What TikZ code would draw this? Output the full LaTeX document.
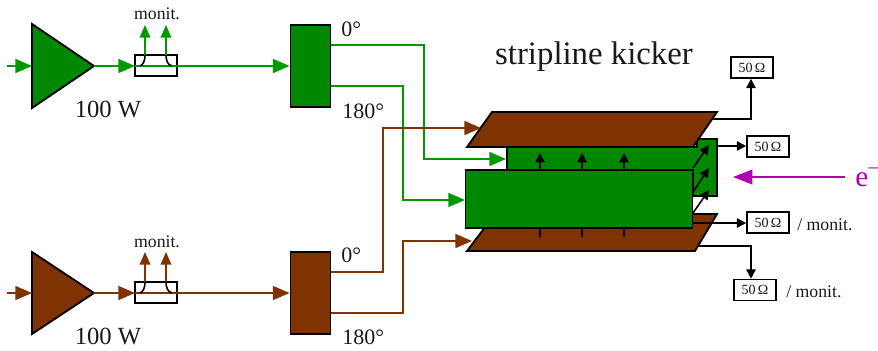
\documentclass[tikz,border=0pt]{standalone}
\usepackage{fontspec}
\setmainfont{Liberation Serif}
\usetikzlibrary{arrows.meta}
\definecolor{grn}{HTML}{008800}
\definecolor{grnline}{HTML}{009900}
\definecolor{brn}{HTML}{7F3300}
\definecolor{mag}{HTML}{B000B0}
\tikzset{
 x=0.75pt,y=-0.75pt,
 fsz/.style={font=\fontsize{#1}{#1}\selectfont,inner sep=0pt,text=black!90},
 split/.style={draw=black,line width=1.4pt,fill=#1,minimum width=30pt,minimum height=61.5pt,inner sep=0pt},
 coupler/.style={draw=black,line width=1.2pt,fill=white,minimum width=31.5pt,minimum height=15.75pt,inner sep=0pt},
 ohm/.style={draw=black,line width=1.2pt,fill=white,minimum width=31.5pt,minimum height=15.75pt,inner sep=0pt,font=\fontsize{10.5}{11}\selectfont,text=black!90},
 bigarr/.style={-{Triangle[length=12.5pt,width=10.5pt]},line width=1.2pt,color=#1},
 midarr/.style={-{Triangle[length=9.5pt,width=8pt]},line width=1.2pt,color=#1},
 plainline/.style={line width=1.2pt,color=#1},
 blkarr/.style={-{Triangle[length=7pt,width=7pt]},line width=1.2pt,color=black},
 blktick/.style={line width=1.2pt,color=black},
 plate/.style={draw=black,line width=1.4pt,line join=miter,fill=#1},
}
\begin{document}
\begin{tikzpicture}
\useasboundingbox (0,0) rectangle (878,350);
% amplifiers
\path[plate=grn] (32,24) -- (94,66) coordinate (gaout) -- (32,108) -- cycle;
\path[plate=brn] (32,252) -- (94,293) coordinate (baout) -- (32,334) -- cycle;
\coordinate (gain) at (32,66); \coordinate (gsrc) at (7,66);
\coordinate (bain) at (32,293); \coordinate (bsrc) at (7,293);
\draw[bigarr=grnline] (gsrc) -- (gain);
\draw[bigarr=brn] (bsrc) -- (bain);
% couplers
\node[coupler] (gc) at (156,65.5) {};
\node[coupler] (bc) at (156,292.5) {};
\coordinate (gcin) at (135,66); \coordinate (gcout) at (177,66);
\coordinate (bcin) at (135,293); \coordinate (bcout) at (177,293);
\coordinate (gm1a) at (145,55); \coordinate (gm2a) at (166,55);
\coordinate (gm1b) at (145,25); \coordinate (gm2b) at (166,25);
\coordinate (bm1a) at (145,282); \coordinate (bm2a) at (166,282);
\coordinate (bm1b) at (145,252); \coordinate (bm2b) at (166,252);
% splitters
\node[split=grn] (gs) at (310.5,66) {};
\node[split=brn] (bs) at (310.5,293) {};
\draw[bigarr=grnline] (gaout) -- (gcin);
\draw[bigarr=brn] (baout) -- (bcin);
\draw[plainline=grnline] (gcin) -- (gcout);
\draw[plainline=brn] (bcin) -- (bcout);
\draw[bigarr=grnline] (gcout) -- (gs.west);
\draw[bigarr=brn] (bcout) -- (bs.west);
\draw[midarr=grnline] (gm1a) -- (gm1b);
\draw[midarr=grnline] (gm2a) -- (gm2b);
\draw[midarr=brn] (bm1a) -- (bm1b);
\draw[midarr=brn] (bm2a) -- (bm2b);
\draw[line width=1.2pt] (gm1a) .. controls (145,61) and (143,65) .. (140,66);
\draw[line width=1.2pt] (gm2a) .. controls (166,61) and (168,65) .. (172,66);
\draw[line width=1.2pt] (bm1a) .. controls (145,288) and (143,292) .. (140,293);
\draw[line width=1.2pt] (bm2a) .. controls (166,288) and (168,292) .. (172,293);
% kicker
\path[plate=brn] (495,214) -- (717,214) -- (695,251) -- (467,251) -- cycle;
\path[plate=grn] (507,147) -- (697,147) -- (697,139) -- (717,139) -- (717,196) -- (693,196) -- (693,170) -- (507,170) -- cycle;
\path[plate=brn] (492,112) -- (717,112) -- (693,147) -- (467,147) -- cycle;
\node[draw=black,line width=1.4pt,fill=grn,minimum width=170.25pt,minimum height=43.5pt,inner sep=0pt] (front) at (579,199) {};
\foreach \xx in {540,582,624}{
 \coordinate (ua) at (\xx,170); \coordinate (ub) at (\xx,153);
 \draw[blkarr] (ua) -- (ub);
 \coordinate (ta) at (\xx,228); \coordinate (tb) at (\xx,237);
 \draw[blktick] (ta) -- (tb);
}
\foreach \ya/\yb in {168/145,192/168,213/190}{
 \coordinate (da) at (693,\ya); \coordinate (db) at (709,\yb);
 \draw[blkarr] (da) -- (db);
}
% feed lines
\coordinate (g0a) at (gs.east |- 0,45); \coordinate (g0b) at (506,159);
\coordinate (g1a) at (gs.east |- 0,86); \coordinate (g1b) at (465,200);
\coordinate (b0a) at (bs.east |- 0,272); \coordinate (b0b) at (481,128);
\coordinate (b1a) at (bs.east |- 0,313); \coordinate (b1b) at (472,241);
\draw[bigarr=grnline] (g0a) -- (424,45) -- (424,159) -- (g0b);
\draw[bigarr=grnline] (g1a) -- (403,86) -- (403,200) -- (g1b);
\draw[bigarr=brn] (b0a) -- (383,272) -- (383,128) -- (b0b);
\draw[bigarr=brn] (b1a) -- (403,313) -- (403,241) -- (b1b);
% terminations
\node[ohm] (t1) at (752,67.5) {50\,Ω};
\node[ohm] (t2) at (768,146.5) {50\,Ω};
\node[ohm] (t3) at (768,222.5) {50\,Ω};
\node[ohm] (t4) at (755,290) {50\,Ω};
\coordinate (p1) at (712,119); \coordinate (p2) at (718,146);
\coordinate (p3) at (693,223); \coordinate (p4) at (697,246);
\coordinate (p1u) at (751,119); \coordinate (p4d) at (751,246);
\draw[blkarr] (p1) -- (p1u) -- (p1u |- t1.south);
\draw[blkarr] (p2) -- (t2.west |- p2);
\draw[blkarr] (p3) -- (t3.west |- p3);
\draw[blkarr] (p4) -- (p4d) -- (p4d |- t4.north);
% electron beam
\node[fsz=22,text=mag,anchor=base west] (el) at (855,186) {e\raisebox{8pt}{\fontsize{16}{16}\selectfont\hspace{-.6pt}−}};
\coordinate (ea) at (845,177); \coordinate (eb) at (733,177);
\draw[-{Triangle[length=14.5pt,width=11pt]},line width=1.2pt,color=mag] (ea) -- (eb);
% labels
\node[fsz=13.3,anchor=base] (l1) at (157,19) {monit.};
\node[fsz=13.3,anchor=base] (l2) at (157,247) {monit.};
\node[fsz=18.5,anchor=base] (l3) at (108,117) {100 W};
\node[fsz=18.5,anchor=base] (l4) at (108,344) {100 W};
\node[fsz=16.5,anchor=base west] (l5) at (341,36) {0°};
\node[fsz=16.5,anchor=base west] (l6) at (342,118) {180°};
\node[fsz=16.5,anchor=base west] (l7) at (341,262) {0°};
\node[fsz=16.5,anchor=base west] (l8) at (342,344) {180°};
\node[fsz=24.6,anchor=base] (l9) at (594,64) {stripline kicker};
\node[fsz=13.3,anchor=base west] (l10) at (797,230) {/ monit.};
\node[fsz=13.3,anchor=base west] (l11) at (786,297) {/ monit.};
\end{tikzpicture}
\end{document}
